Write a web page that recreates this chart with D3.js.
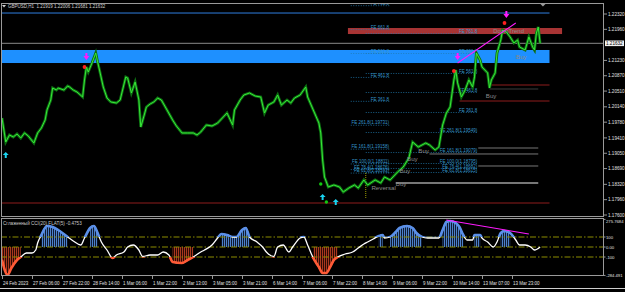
<!DOCTYPE html>
<html>
<head>
<meta charset="utf-8">
<script src="https://cdn.jsdelivr.net/npm/d3@7"></script>
<style>
  html, body { margin: 0; padding: 0; background: #000; overflow: hidden; }
  text { font-family: "Liberation Sans", Arial, sans-serif; }
</style>
</head>
<body>
<svg id="chart" width="625" height="292"></svg>
<script>
// ---- data (H1 bar index, value) ----
const priceBars = [
  0, 2, 4, 6, 8, 10, 12, 14, 17, 19,
  21, 23, 24, 26, 27, 29, 30, 33, 35, 36,
  38, 40, 43, 44, 45, 46, 48, 50, 51, 52,
  54, 56, 58, 61, 63, 66, 67, 69, 71, 73,
  74, 76, 77, 79, 81, 83, 85, 88, 91, 93,
  96, 99, 102, 104, 106, 109, 112, 115, 118, 120,
  123, 124, 127, 129, 132, 135, 138, 140, 142, 145,
  147, 149, 152, 154, 156, 159, 162, 163, 166, 169,
  170, 171, 172, 174, 177, 180, 182, 185, 188, 190,
  193, 195, 199, 202, 204, 207, 211, 214, 217, 219,
  222, 226, 228, 231, 233, 235, 237, 239, 241, 242,
  243, 245, 247, 249, 251, 252, 253, 255, 256, 259,
  260, 261, 263, 264, 266, 267, 269, 271, 273, 275,
  276, 279, 281, 283, 284, 285, 286, 287
];
const priceVals = [
  1.19878, 1.19314, 1.19479, 1.19432, 1.19502, 1.19408, 1.19526, 1.19455, 1.19291, 1.19526,
  1.19643, 1.19831, 1.20066, 1.20300, 1.20582, 1.20535, 1.20582, 1.20535, 1.20629, 1.20606,
  1.20535, 1.20488, 1.20371, 1.20770, 1.21075, 1.20958, 1.21169, 1.21404, 1.21193, 1.21005,
  1.20606, 1.20347, 1.20254, 1.20230, 1.20300, 1.20841, 1.20817, 1.20465, 1.20723, 1.20300,
  1.19666, 1.19972, 1.20136, 1.20207, 1.20254, 1.20347, 1.20300, 1.20066, 1.19831, 1.19690,
  1.19526, 1.19526, 1.19526, 1.19479, 1.19549, 1.19713, 1.19690, 1.19760, 1.19901, 1.19995,
  1.19713, 1.20066, 1.20300, 1.20418, 1.20465, 1.20394, 1.20371, 1.19995, 1.20183, 1.20254,
  1.20418, 1.20183, 1.20300, 1.20230, 1.20347, 1.20418, 1.20606, 1.20371, 1.20066, 1.19760,
  1.19526, 1.18892, 1.18492, 1.18257, 1.18304, 1.18257, 1.18140, 1.18234, 1.18304, 1.18234,
  1.18422, 1.18304, 1.18422, 1.18351, 1.18492, 1.18422, 1.18610, 1.18727, 1.18938, 1.19314,
  1.19197, 1.19291, 1.19244, 1.19126, 1.19197, 1.19713, 1.19995, 1.20136, 1.20770, 1.21005,
  1.20700, 1.20371, 1.20535, 1.20770, 1.20606, 1.20841, 1.21404, 1.21240, 1.21075, 1.20935,
  1.20582, 1.20770, 1.20935, 1.21404, 1.21709, 1.21944, 1.21897, 1.21780, 1.21639, 1.21709,
  1.21545, 1.21475, 1.21780, 1.21545, 1.21475, 1.21874, 1.22015, 1.21632
];

const cciBars = [
  0, 3, 5, 8, 10, 13, 16, 18, 19, 21,
  24, 27, 30, 35, 38, 42, 44, 47, 49, 51,
  53, 56, 59, 61, 65, 67, 70, 73, 75, 79,
  83, 86, 89, 91, 96, 99, 102, 106, 108, 112,
  115, 117, 120, 123, 125, 128, 130, 132, 136, 139,
  141, 145, 147, 150, 153, 155, 159, 161, 163, 166,
  169, 171, 173, 175, 177, 179, 183, 187, 190, 193,
  195, 198, 201, 203, 204, 207, 210, 212, 216, 219,
  221, 224, 227, 231, 233, 235, 237, 239, 242, 244,
  246, 248, 251, 252, 255, 256, 259, 262, 264, 266,
  268, 271, 274, 276, 279, 282, 284, 287
];
const cciVals = [
  -130, -280, -210, -130, -100, -60, -60, -30, 40, 120,
  210, 200, 170, 100, 60, 20, 90, 190, 210, 140,
  50, -30, -110, -80, -50, 0, 20, -30, -95, -80,
  -80, -50, -80, -150, -160, -130, -100, -50, -30, 20,
  90, 130, 120, 100, 100, 170, 190, 100, 50, 0,
  -50, -95, 0, 20, -50, 0, 90, 100, 20, -110,
  -200, -260, -260, -200, -130, -100, -70, -50, -10, 30,
  50, 80, 110, 120, 90, 100, 150, 190, 210, 190,
  140, 100, 90, 90, 90, 170, 250, 260, 240, 200,
  120, 70, 70, 120, 120, 90, 50, 0, 50, 140,
  160, 140, 70, 20, 20, 0, -30, 0
];

const timeLabels = ["24 Feb 2023", "27 Feb 06:00", "27 Feb 22:00", "28 Feb 14:00", "1 Mar 06:00",
  "1 Mar 22:00", "2 Mar 13:00", "3 Mar 05:00", "3 Mar 21:00", "6 Mar 14:00", "7 Mar 06:00",
  "7 Mar 22:00", "8 Mar 14:00", "9 Mar 06:00", "9 Mar 22:00", "10 Mar 14:00", "13 Mar 07:00",
  "13 Mar 23:00"];
const timeLabelBars = [0, 16, 32, 48, 64, 80, 96, 112, 128, 144, 160, 176, 192, 208, 224, 240, 256, 272];

const priceTicks = [1.22320, 1.21960, 1.21230, 1.20870, 1.20510, 1.20140, 1.19780, 1.19410,
  1.19050, 1.18690, 1.18320, 1.17960, 1.17600];
const cciTicks = [275.7684, 100, 0, -100, -284.491];
const cciTickLabels = ["275.7684", "100", "0.00", "-100", "-284.491"];
const cciLevels = [100, 0, -100];

const header = "GBPUSD,H1  1.21919 1.22006 1.21681 1.21632";
const lastPrice = 1.21632;
const cciTitle = "Сглаженный CCI(20) FLAT(5) -0.4753";

// zones and levels: [price top, price bottom], [bar from, bar to]
const blueZone = [1.21475, 1.21169], blueZoneBars = [-1, 292];
const redZone = [1.21991, 1.21850], redZoneBars = [184.5, 298.7];
const blueLevel = 1.22343, blueLevelBars = [-1, 292];
const redLevels = [1.20653, 1.20277, 1.17882];
const redLevelBars = [[261, 292], [244, 292], [-1, 292]];
const grayLevels = [1.20559, 1.19173, 1.19033, 1.18751, 1.18351];
const grayLevelBars = [[260, 286], [254, 286], [228, 286], [254, 286], [210, 286]];

// fibo expansions
const feLeftPrices = [1.22527, 1.21965, 1.21404, 1.20842, 1.20281, 1.19719, 1.19158, 1.18811, 1.18678, 1.18596];
const feLeftText = ["FE 761.8", "FE 661.8", "FE 561.8", "FE 461.8", "FE 361.8", "FE 261.8(1.19731)",
  "FE 161.8(1.19158)", "FE 100.0(1.18811)", "FE 76.4(1.18676)", "FE 61.8(1.18593)"];
const feLeftSpan = [186, 207];
const feRightPrices = [1.21874, 1.21404, 1.20935, 1.20488, 1.20019, 1.19549, 1.19079, 1.18821, 1.18704, 1.18610];
const feRightText = ["FE 761.8", "FE 661.8", "FE 561.8", "FE 461.8", "FE 361.8", "FE 261.8(1.19549)",
  "FE 161.8(1.19079)", "FE 100.0(1.18795)", "FE 76.4(1.18682)", "FE 61.8(1.18615)"];
const feRightSpan = [194, 254];

// signals
const sellArrows = [[45, 1.21240], [243, 1.21240], [269, 1.22226]];
const redDots = [[44, 1.21075], [241, 1.20982], [268, 1.22109]];
const buyArrows = [[2, 1.19009], [171, 1.18023], [178, 1.17905]];
const greenDots = [[170, 1.18328], [173, 1.17905]];
const trendLine = [[243, 1.21169], [274, 1.22109]];
const cciTrendLine = [[237, 270], [281, 130]];
const notes = [
  ["DownTrend", 262, 1.21874], ["Buy", 258, 1.20359], ["Buy", 274, 1.21252],
  ["Buy", 216, 1.18868], ["Buy", 212, 1.18586], ["Buy", 222, 1.19050],
  ["Reversal", 197, 1.18187], ["Buy", 210, 1.18280]
];
const zigBars = [194, 194], zigPrices = [1.18586, 1.18000];

// ---- layout ----
const svg = d3.select('#chart');
const plotL = 1, plotR = 604, mainT = 3, mainB = 216, indT = 219, indB = 276;

const x = d3.scaleLinear().domain([0, 16]).range([2, 32]);
const y = d3.scaleLinear().domain([1.17600, 1.22320]).range([215, 14]);
const yc = d3.scaleLinear().domain([-100, 100]).range([257, 237]);

svg.append('rect').attr('width', 625).attr('height', 292).attr('fill', '#000');

const defs = svg.append('defs');
defs.append('clipPath').attr('id', 'clipMain').append('rect')
  .attr('x', plotL).attr('y', mainT).attr('width', plotR - plotL).attr('height', mainB - mainT);
defs.append('clipPath').attr('id', 'clipInd').append('rect')
  .attr('x', plotL).attr('y', indT).attr('width', plotR - plotL).attr('height', indB - indT);
defs.append('clipPath').attr('id', 'clipUp').append('rect')
  .attr('x', plotL).attr('y', indT).attr('width', plotR - plotL).attr('height', yc(100) - indT);
defs.append('clipPath').attr('id', 'clipDn').append('rect')
  .attr('x', plotL).attr('y', yc(-100)).attr('width', plotR - plotL).attr('height', indB - yc(-100));

const stripe = (id, bg, fg) => {
  const p = defs.append('pattern').attr('id', id).attr('patternUnits', 'userSpaceOnUse')
    .attr('width', 2).attr('height', 4);
  p.append('rect').attr('width', 2).attr('height', 4).attr('fill', bg);
  p.append('rect').attr('width', 1).attr('height', 4).attr('fill', fg);
};
stripe('blueStripe', '#0e1a33', '#4c80c8');
stripe('redStripe', '#2a0905', '#a8381e');

// ---- main panel ----
const main = svg.append('g').attr('clip-path', 'url(#clipMain)');

main.append('line')
  .attr('x1', x(blueLevelBars[0])).attr('x2', x(blueLevelBars[1]))
  .attr('y1', y(blueLevel)).attr('y2', y(blueLevel))
  .attr('stroke', '#2f7fe0').attr('stroke-width', 1);

main.append('rect')
  .attr('x', x(blueZoneBars[0])).attr('width', x(blueZoneBars[1]) - x(blueZoneBars[0]))
  .attr('y', y(blueZone[0])).attr('height', y(blueZone[1]) - y(blueZone[0]))
  .attr('fill', '#1e90ff');

main.append('rect')
  .attr('x', x(redZoneBars[0])).attr('width', x(redZoneBars[1]) - x(redZoneBars[0]))
  .attr('y', y(redZone[0])).attr('height', y(redZone[1]) - y(redZone[0]))
  .attr('fill', '#a83434');

// current price line
main.append('line')
  .attr('x1', plotL).attr('x2', plotR)
  .attr('y1', y(lastPrice)).attr('y2', y(lastPrice))
  .attr('stroke', '#6e6e6e').attr('stroke-width', 1.2);

redLevels.forEach((p, i) => {
  main.append('line')
    .attr('x1', x(redLevelBars[i][0])).attr('x2', x(redLevelBars[i][1]))
    .attr('y1', y(p)).attr('y2', y(p))
    .attr('stroke', '#8e1c1c').attr('stroke-width', 1.2);
});

grayLevels.forEach((p, i) => {
  main.append('line')
    .attr('x1', x(grayLevelBars[i][0])).attr('x2', x(grayLevelBars[i][1]))
    .attr('y1', y(p)).attr('y2', y(p))
    .attr('stroke', i === 0 ? '#3c3c3c' : '#777')
    .attr('stroke-width', i === grayLevels.length - 1 ? 2 : 1);
});

// fibo expansions
const drawFibo = (prices, texts, span) => {
  prices.forEach((p, i) => {
    main.append('line')
      .attr('x1', x(span[0])).attr('x2', x(span[1]))
      .attr('y1', y(p) + 0.5).attr('y2', y(p) + 0.5)
      .attr('stroke', '#1f78ad').attr('stroke-width', 0.8)
      .attr('stroke-dasharray', '1,1.5');
    main.append('text')
      .attr('x', x(span[1]) - 1).attr('y', y(p) - 0.3)
      .attr('text-anchor', 'end')
      .attr('font-size', 4.5).attr('fill', '#3696cc')
      .text(texts[i]);
  });
};
drawFibo(feLeftPrices, feLeftText, feLeftSpan);
drawFibo(feRightPrices, feRightText, feRightSpan);

// zigzag stub
main.append('line')
  .attr('x1', x(zigBars[0])).attr('x2', x(zigBars[1]))
  .attr('y1', y(zigPrices[0])).attr('y2', y(zigPrices[1]))
  .attr('stroke', '#c8c800').attr('stroke-width', 0.8).attr('stroke-dasharray', '1,1');

// price line
const priceData = priceBars.map((b, i) => [b, priceVals[i]]);
const priceLine = d3.line().x(d => x(d[0])).y(d => y(d[1]));
main.append('path').datum(priceData).attr('d', priceLine)
  .attr('fill', 'none').attr('stroke', '#0d6e12').attr('stroke-width', 2.8)
  .attr('stroke-linejoin', 'miter');
main.append('path').datum(priceData).attr('d', priceLine)
  .attr('fill', 'none').attr('stroke', '#38e838').attr('stroke-width', 1)
  .attr('stroke-linejoin', 'miter');

// annotations
notes.forEach(n => {
  main.append('text')
    .attr('x', x(n[1])).attr('y', y(n[2]))
    .attr('font-size', n[0] === 'DownTrend' ? 6 : 6.2)
    .attr('fill', '#8a8a8a')
    .text(n[0]);
});

main.append('line')
  .attr('x1', x(trendLine[0][0])).attr('y1', y(trendLine[0][1]))
  .attr('x2', x(trendLine[1][0])).attr('y2', y(trendLine[1][1]))
  .attr('stroke', '#ff1aff').attr('stroke-width', 1.1);

sellArrows.forEach(d => {
  const cx = x(d[0]), cy = y(d[1]);
  main.append('path')
    .attr('d', `M${cx - 1},${cy - 7} h2 v3 h2 l-3,4 l-3,-4 h2 z`)
    .attr('fill', '#ff1aff');
});
redDots.forEach(d => {
  main.append('circle').attr('cx', x(d[0])).attr('cy', y(d[1])).attr('r', 1.9).attr('fill', '#ff2020');
});
buyArrows.forEach(d => {
  const cx = x(d[0]), cy = y(d[1]);
  main.append('path')
    .attr('d', `M${cx},${cy - 3} l3,3 h-2 v3 h-2 v-3 h-2 z`)
    .attr('fill', '#19d3f0');
});
greenDots.forEach(d => {
  main.append('circle').attr('cx', x(d[0])).attr('cy', y(d[1])).attr('r', 1.7).attr('fill', '#11c811');
});

// ---- indicator panel ----
const ind = svg.append('g').attr('clip-path', 'url(#clipInd)');
const cciData = cciBars.map((b, i) => [b, cciVals[i]]);

ind.append('path').datum(cciData)
  .attr('d', d3.area().defined(d => d[1] >= 100).x(d => x(d[0])).y0(yc(0)).y1(d => yc(d[1])))
  .attr('fill', 'url(#blueStripe)');
ind.append('path').datum(cciData)
  .attr('d', d3.area().defined(d => d[1] <= -100).x(d => x(d[0])).y0(yc(0)).y1(d => yc(d[1])))
  .attr('fill', 'url(#redStripe)');

cciLevels.forEach(v => {
  ind.append('line')
    .attr('x1', plotL).attr('x2', plotR).attr('y1', yc(v)).attr('y2', yc(v))
    .attr('stroke', '#8c8c00').attr('stroke-width', 1).attr('stroke-dasharray', '6,2,1.5,2');
});

const cciLine = d3.line().x(d => x(d[0])).y(d => yc(d[1])).curve(d3.curveMonotoneX);
ind.append('path').datum(cciData).attr('d', cciLine)
  .attr('fill', 'none').attr('stroke', '#ffffff').attr('stroke-width', 1.3);
ind.append('path').datum(cciData).attr('d', cciLine).attr('clip-path', 'url(#clipUp)')
  .attr('fill', 'none').attr('stroke', '#5a8fe8').attr('stroke-width', 2.6);
ind.append('path').datum(cciData).attr('d', cciLine).attr('clip-path', 'url(#clipDn)')
  .attr('fill', 'none').attr('stroke', '#ff5a36').attr('stroke-width', 2.6);

ind.append('line')
  .attr('x1', x(cciTrendLine[0][0])).attr('y1', yc(cciTrendLine[0][1]))
  .attr('x2', x(cciTrendLine[1][0])).attr('y2', yc(cciTrendLine[1][1]))
  .attr('stroke', '#ff1aff').attr('stroke-width', 1.1);

svg.append('text').attr('x', 3).attr('y', 224.5)
  .attr('font-size', 4.6).attr('fill', '#c8c8c8').text(cciTitle);

// ---- frames ----
svg.append('rect').attr('x', plotL + 0.5).attr('y', mainT + 0.5)
  .attr('width', plotR - plotL - 1).attr('height', mainB - mainT)
  .attr('fill', 'none').attr('stroke', '#9a9a9a').attr('stroke-width', 1);
svg.append('rect').attr('x', plotL + 0.5).attr('y', indT - 0.5)
  .attr('width', plotR - plotL - 1).attr('height', indB - indT)
  .attr('fill', 'none').attr('stroke', '#9a9a9a').attr('stroke-width', 1);
svg.append('line').attr('x1', 0).attr('x2', 625).attr('y1', 288.5).attr('y2', 288.5)
  .attr('stroke', '#cfcfcf').attr('stroke-width', 1);

// header
svg.append('path').attr('d', 'M2,5 h4 l-2,2.5 z').attr('fill', '#d0d0d0');
svg.append('text').attr('x', 8).attr('y', 8)
  .attr('font-size', 4.5).attr('fill', '#d0d0d0').attr('xml:space', 'preserve').text(header);
svg.append('path').attr('d', `M${x(288.5) - 2.5},${mainT + 1} h5 l-2.5,2.5 z`).attr('fill', '#9a9a9a');

// price axis
priceTicks.forEach(p => {
  svg.append('line').attr('x1', plotR).attr('x2', plotR + 3).attr('y1', y(p)).attr('y2', y(p))
    .attr('stroke', '#bbb').attr('stroke-width', 0.8);
  svg.append('text').attr('x', plotR + 4).attr('y', y(p) + 1.6)
    .attr('font-size', 4.6).attr('fill', '#e0e0e0').text(p.toFixed(5));
});
svg.append('rect').attr('x', plotR + 1).attr('y', y(lastPrice) - 2.8)
  .attr('width', 19).attr('height', 5.6).attr('fill', '#f0f0f0');
svg.append('text').attr('x', plotR + 2).attr('y', y(lastPrice) + 1.6)
  .attr('font-size', 4.6).attr('fill', '#000').text(lastPrice.toFixed(5));

// cci axis
cciTicks.forEach((v, i) => {
  svg.append('line').attr('x1', plotR).attr('x2', plotR + 1.5).attr('y1', yc(v)).attr('y2', yc(v))
    .attr('stroke', '#bbb').attr('stroke-width', 0.8);
  svg.append('text').attr('x', plotR + 2).attr('y', Math.max(yc(v) + 1.6, 222.5))
    .attr('font-size', 4.2).attr('fill', '#e0e0e0').text(cciTickLabels[i]);
});

// time axis
timeLabelBars.forEach((b, i) => {
  svg.append('line').attr('x1', x(b) + 0.5).attr('x2', x(b) + 0.5).attr('y1', indB).attr('y2', indB + 3)
    .attr('stroke', '#bbb').attr('stroke-width', 0.8);
  svg.append('text').attr('x', x(b) + 1).attr('y', 284.5)
    .attr('font-size', 4.5).attr('fill', '#e0e0e0').text(timeLabels[i]);
});
</script>
</body>
</html>
